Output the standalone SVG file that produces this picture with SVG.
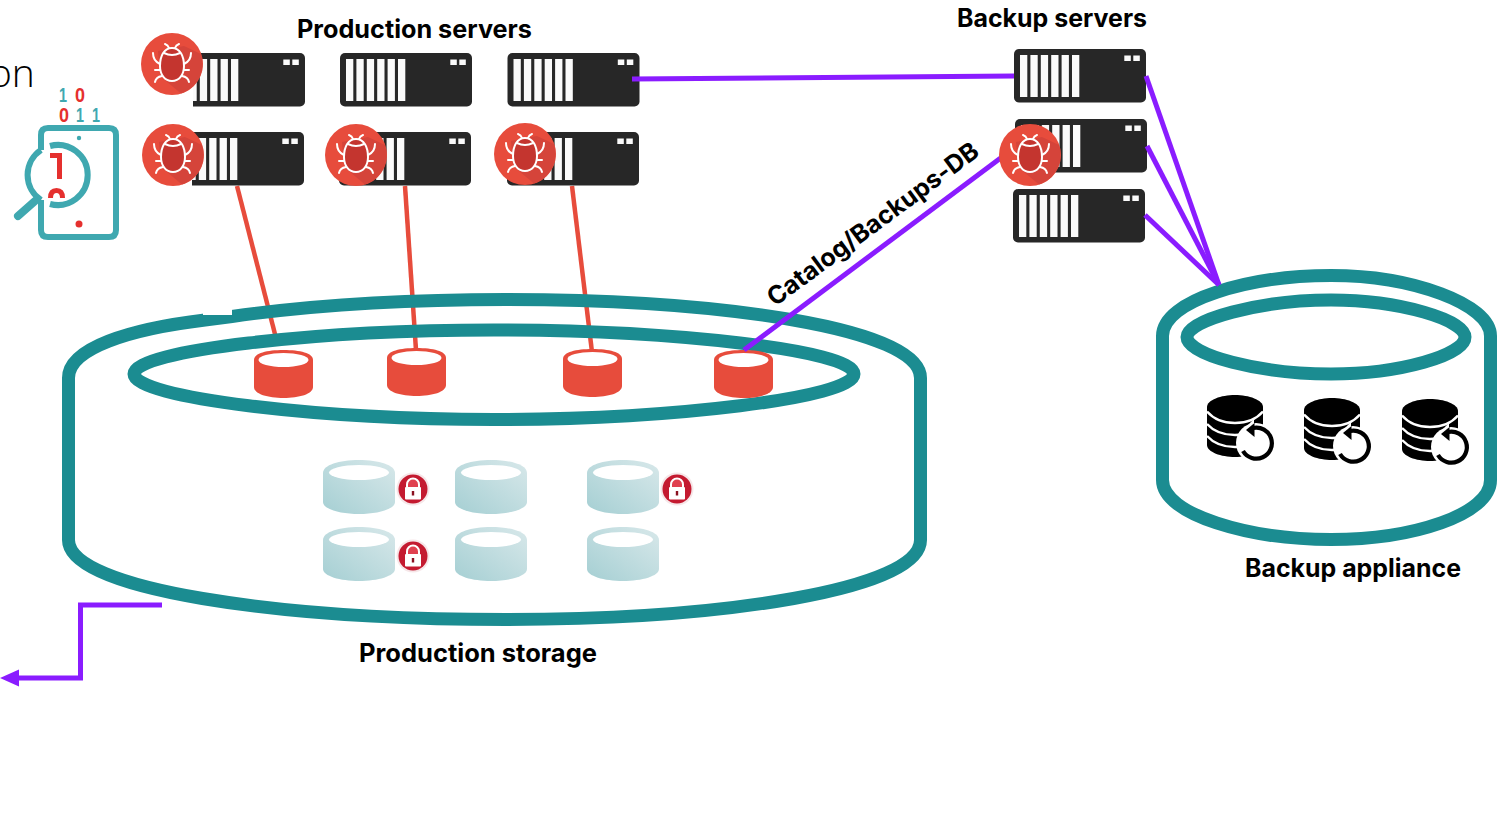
<svg xmlns="http://www.w3.org/2000/svg" width="1501" height="827" viewBox="0 0 1501 827">
<style>
.lbl{font-family:Inter,"Liberation Sans",Arial,sans-serif;font-weight:700;font-size:25px;fill:#000}
.teal{fill:none;stroke:#1b8c91;stroke-width:13}
.pur{fill:none;stroke:#8a1cff;stroke-width:5}
.red{fill:none;stroke:#e74c3c;stroke-width:4.5}
.srv{fill:#272727}
.st{fill:#fafafa}
.icon{fill:none;stroke:#3fa8b0;stroke-width:6}
.dig{font-family:"Liberation Sans",Arial,sans-serif;font-weight:700;font-size:20px;text-anchor:middle}
</style>
<defs>
<linearGradient id="lg" x1="0" y1="1" x2="1" y2="0"><stop offset="0" stop-color="#a5cfd3"/><stop offset="1" stop-color="#d8e8ea"/></linearGradient>
<g id="stripes" class="st">
<rect x="6" y="6" width="7.3" height="42"/><rect x="16.4" y="6" width="7.3" height="42"/><rect x="26.8" y="6" width="7.3" height="42"/><rect x="37.2" y="6" width="7.3" height="42"/><rect x="47.6" y="6" width="7.3" height="42"/><rect x="58" y="6" width="7.3" height="42"/>
<rect x="110.3" y="6.5" width="6.5" height="5.5"/><rect x="119.3" y="6.5" width="6.5" height="5.5"/>
</g>
<g id="server"><rect class="srv" width="132" height="53.5" rx="5"/><use href="#stripes"/></g>
<clipPath id="crop"><rect x="20" y="-2" width="114" height="58"/></clipPath>
<g id="bug">
<circle r="31" fill="#e74c3c"/>
<path d="M-14-13 12-18 29-10A31 31 0 0 1 9 29.500L-12 12Z" fill="#d5443a"/>
<path d="M0-16C8-16 12-8 12 2C12 11 7 17 0 17S-12 11-12 2C-12-8-8-16 0-16Z" fill="#c4352f" stroke="#fff" stroke-width="2"/>
<path d="M-8-11Q0-7 8-11M-3-16Q-4-19-7-20M3-16Q4-19 7-20M-19-11Q-19-3-12 0M19-11Q19-3 12 0M-12 6H-17M12 6H17M-10 12Q-16 13-17 18M10 12Q16 13 17 18" fill="none" stroke="#fff" stroke-width="2" stroke-linecap="round"/>
</g>
<g id="redcyl">
<path d="M0 10C0 3 13 0 29.500 0S59 3 59 10V37C59 44 45 48 29.500 48S0 44 0 37Z" fill="#e74c3c"/>
<ellipse cx="29.500" cy="10" rx="25" ry="7" fill="#fff"/>
</g>
<g id="ltcyl">
<path d="M0 13C0 5 16 0 36 0S72 5 72 13V42C72 49 55 54 36 54S0 49 0 42Z" fill="url(#lg)"/>
<ellipse cx="36" cy="12.500" rx="30" ry="7.500" fill="#fff"/>
</g>
<g id="lock">
<circle r="16.500" fill="#f6e6e8"/>
<circle r="14.500" fill="#c41a30"/>
<path d="M-6-2V-4.500A6 6 0 0 1 6-4.500V-2" fill="#e0404f" stroke="#fff" stroke-width="2"/>
<rect x="-8" y="-2" width="16" height="12.500" fill="#fff" rx="1"/>
<rect x="-1.200" y="2" width="2.400" height="4.500" fill="#8a1020"/>
</g>
<g id="db">
<path d="M0 12C0 5 14 0 28 0S56 5 56 12V50C56 57 42 62 28 62S0 57 0 50Z"/>
<path d="M0 16.500Q10 28 28 28T56 16.500M0 29Q10 40 28 40T50 34M0 41Q10 52 28 52T50 46" fill="none" stroke="#fff" stroke-width="2.500"/>
<circle cx="49" cy="48" r="20" fill="#fff"/>
<path d="M35 36 47 24V47Z" fill="#fff"/>
<path d="M46 33A15.500 15.500 0 1 1 36 56" fill="none" stroke="#000" stroke-width="4.200"/>
<path d="M39 35 47.500 28V42Z"/>
</g>
</defs>
<rect width="1501" height="827" fill="#fff"/>

<g id="connectors">
<path class="red" d="M237 186 276 338"/>
<path class="red" d="M405 186 416 350"/>
<path class="red" d="M572 186 592 352"/>
</g>

<g id="production-storage">
<path class="teal" d="M68.500 378C68.500 348 130 329 205 320L232 316.500C320 304 420 299.500 506 299.500C720 299.500 920.500 328 920.500 378V540C920.500 590 720 619.500 506 619.500C280 619.500 68.500 590 68.500 540Z"/>
<path d="M203 308H232V315H203Z" fill="#fff"/>
<path class="teal" stroke-width="12" d="M134 374C134 350 320 330 494 330C670 330 854 350 854 374C854 398 670 419.500 494 419.500C320 419.500 134 398 134 374Z"/>
<use href="#redcyl" x="254" y="350"/>
<use href="#redcyl" x="387" y="348"/>
<use href="#redcyl" x="563" y="349"/>
<use href="#redcyl" x="714" y="350"/>
<use href="#ltcyl" x="323" y="460"/>
<use href="#ltcyl" x="455" y="460"/>
<use href="#ltcyl" x="587" y="460"/>
<use href="#ltcyl" x="323" y="527"/>
<use href="#ltcyl" x="455" y="527"/>
<use href="#ltcyl" x="587" y="527"/>
<use href="#lock" x="413" y="489"/>
<use href="#lock" x="677" y="489"/>
<use href="#lock" x="413" y="556"/>
<text class="lbl" x="359" y="662" textLength="238" lengthAdjust="spacingAndGlyphs">Production storage</text>
</g>

<g id="backup-appliance">
<path class="teal" d="M1162.500 336C1162.500 300 1250 275.500 1331 275.500C1412 275.500 1490.500 304 1490.500 336V480C1490.500 515 1412 539.500 1331 539.500C1250 539.500 1162.500 515 1162.500 480Z"/>
<path class="teal" stroke-width="12.500" d="M1187 337C1187 320 1260 300 1331 300C1400 300 1465 320 1465 337C1465 355 1400 374 1331 374C1260 374 1187 355 1187 337Z"/>
<use href="#db" x="1207" y="395"/>
<use href="#db" x="1304" y="398"/>
<use href="#db" x="1402" y="399"/>
<text class="lbl" x="1245" y="577" textLength="216" lengthAdjust="spacingAndGlyphs">Backup appliance</text>
</g>

<g id="prod-server-1"><use href="#server" x="173" y="53" clip-path="url(#crop)"/><use href="#bug" x="172" y="64"/></g>
<g id="prod-server-2"><use href="#server" x="340" y="53"/></g>
<g id="prod-server-3"><use href="#server" x="507.500" y="53"/></g>
<g id="prod-server-4"><use href="#server" x="172" y="132" clip-path="url(#crop)"/><use href="#bug" x="173" y="155"/></g>
<g id="prod-server-5"><use href="#server" x="339" y="132"/><use href="#bug" x="356" y="155"/></g>
<g id="prod-server-6"><use href="#server" x="507" y="132"/><use href="#bug" x="525" y="154"/></g>
<text class="lbl" x="297" y="38" textLength="235" lengthAdjust="spacingAndGlyphs">Production servers</text>

<g id="backup-server-1"><use href="#server" x="1014" y="49"/></g>
<g id="backup-server-2"><use href="#server" x="1015" y="119"/></g>
<g id="backup-server-3"><use href="#server" x="1013" y="189"/></g>
<text class="lbl" x="957" y="27" textLength="190" lengthAdjust="spacingAndGlyphs">Backup servers</text>

<g id="connectors-purple">
<path class="pur" d="M632 79 1014 76"/>
<path class="pur" d="M1002 157 744 350"/>
<path class="pur" d="M1146 76 1219 285"/>
<path class="pur" d="M1147 146 1219 285"/>
<path class="pur" d="M1145 215 1219 285"/>
<path class="pur" d="M162 605H80.500V678H12"/>
<path d="M0 678 19 669.500V686.500Z" fill="#8a1cff"/>
</g>
<g id="backup-bug"><use href="#bug" x="1030" y="155"/></g>
<text class="lbl" transform="translate(775 307) rotate(-36.500)" textLength="256" lengthAdjust="spacingAndGlyphs">Catalog/Backups-DB</text>

<text x="-11" y="86.500" font-family="'Open Sans',sans-serif" font-weight="300" font-size="39" fill="#000">on</text>

<g id="analysis-icon">
<path class="icon" d="M41 150V135Q41 128 48 128H109Q116 128 116 135V230Q116 237 109 237H48Q41 237 41 230V200"/>
<path class="icon" d="M50 146A30 30 0 1 1 50 204"/>
<path class="icon" d="M41 150A30 30 0 0 0 41 200"/>
<path d="M35 201 18 216" fill="none" stroke="#3fa8b0" stroke-width="8" stroke-linecap="round"/>
<circle cx="79" cy="138" r="2.200" fill="#3fa8b0"/>
<circle cx="79" cy="224" r="3.500" fill="#e5302e"/>
<path d="M50 153H62V179H57V158H50Z" fill="#e5302e"/>
<path d="M48 198Q48 188 56.500 188Q65 188 65 198H60Q60 193 56.500 193Q53 193 53 198Z" fill="#e5302e"/>
<text class="dig" x="63" y="102" fill="#3fa8b0" textLength="8" lengthAdjust="spacingAndGlyphs">1</text>
<text class="dig" x="80" y="102" fill="#e5302e" textLength="10" lengthAdjust="spacingAndGlyphs">0</text>
<text class="dig" x="64" y="122" fill="#e5302e" textLength="10" lengthAdjust="spacingAndGlyphs">0</text>
<text class="dig" x="80" y="122" fill="#3fa8b0" textLength="8" lengthAdjust="spacingAndGlyphs">1</text>
<text class="dig" x="96" y="122" fill="#3fa8b0" textLength="8" lengthAdjust="spacingAndGlyphs">1</text>
</g>
</svg>
